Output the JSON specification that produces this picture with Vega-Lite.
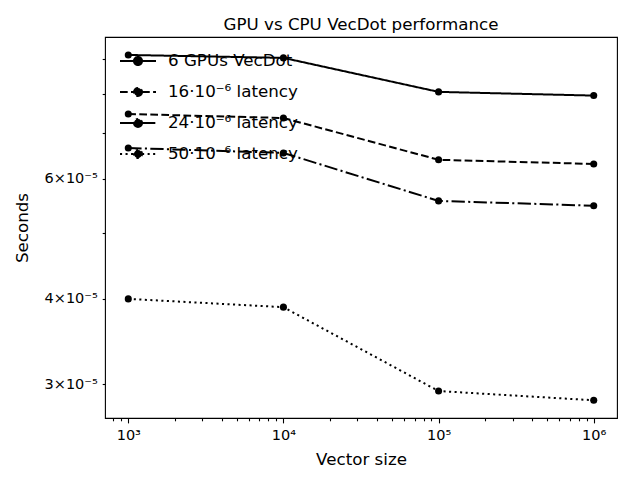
{
  "$schema": "https://vega.github.io/schema/vega-lite/v6.json",
  "width": 512,
  "height": 381,
  "autosize": "none",
  "padding": {"left": 105, "top": 37, "right": 23, "bottom": 62},
  "background": "white",
  "title": {"text": "GPU vs CPU VecDot performance", "fontSize": 16.7, "fontWeight": "normal", "font": "DejaVu Sans", "offset": 3, "color": "black"},
  "data": {
    "values": [
      {"series": "6 GPUs VecDot", "size": 1000, "seconds": 9.12e-5},
      {"series": "6 GPUs VecDot", "size": 10000, "seconds": 9.03e-5},
      {"series": "6 GPUs VecDot", "size": 100000, "seconds": 8.05e-5},
      {"series": "6 GPUs VecDot", "size": 1000000, "seconds": 7.95e-5},
      {"series": "16·10⁻⁶ latency", "size": 1000, "seconds": 7.47e-5},
      {"series": "16·10⁻⁶ latency", "size": 10000, "seconds": 7.37e-5},
      {"series": "16·10⁻⁶ latency", "size": 100000, "seconds": 6.40e-5},
      {"series": "16·10⁻⁶ latency", "size": 1000000, "seconds": 6.31e-5},
      {"series": "24·10⁻⁶ latency", "size": 1000, "seconds": 6.66e-5},
      {"series": "24·10⁻⁶ latency", "size": 10000, "seconds": 6.55e-5},
      {"series": "24·10⁻⁶ latency", "size": 100000, "seconds": 5.57e-5},
      {"series": "24·10⁻⁶ latency", "size": 1000000, "seconds": 5.48e-5},
      {"series": "50·10⁻⁶ latency", "size": 1000, "seconds": 4.00e-5},
      {"series": "50·10⁻⁶ latency", "size": 10000, "seconds": 3.89e-5},
      {"series": "50·10⁻⁶ latency", "size": 100000, "seconds": 2.93e-5},
      {"series": "50·10⁻⁶ latency", "size": 1000000, "seconds": 2.84e-5}
    ]
  },
  "encoding": {
    "x": {
      "field": "size", "type": "quantitative",
      "scale": {"type": "log", "domain": [707.9, 1412537.5], "nice": false},
      "axis": {
        "values": [800, 900, 1000, 2000, 3000, 4000, 5000, 6000, 7000, 8000, 9000, 10000, 20000, 30000, 40000, 50000, 60000, 70000, 80000, 90000, 100000, 200000, 300000, 400000, 500000, 600000, 700000, 800000, 900000, 1000000],
        "labelExpr": "datum.value == 1000 ? '10³' : datum.value == 10000 ? '10⁴' : datum.value == 100000 ? '10⁵' : datum.value == 1000000 ? '10⁶' : ''",
        "tickSize": {"condition": {"test": "datum.value == 1000 || datum.value == 10000 || datum.value == 100000 || datum.value == 1000000", "value": 4.9}, "value": 2.8},
        "labelPadding": 5.5,
        "labelOverlap": false,
        "labelFlush": false,
        "title": "Vector size",
        "titlePadding": 10
      }
    },
    "y": {
      "field": "seconds", "type": "quantitative",
      "scale": {"type": "log", "domain": [2.675e-5, 9.69e-5], "nice": false, "zero": false},
      "axis": {
        "values": [3e-5, 4e-5, 5e-5, 6e-5, 7e-5, 8e-5, 9e-5],
        "labelExpr": "round(datum.value * 1e5) == 3 ? '3×10⁻⁵' : round(datum.value * 1e5) == 4 ? '4×10⁻⁵' : round(datum.value * 1e5) == 6 ? '6×10⁻⁵' : ''",
        "tickSize": 2.8,
        "labelPadding": 4.9,
        "labelOverlap": false,
        "labelFlush": false,
        "title": "Seconds",
        "titlePadding": 13
      }
    }
  },
  "layer": [
    {
      "mark": {"type": "line", "color": "black", "strokeWidth": 2},
      "encoding": {
        "strokeDash": {
          "field": "series", "type": "nominal",
          "scale": {
            "domain": ["6 GPUs VecDot", "16·10⁻⁶ latency", "24·10⁻⁶ latency", "50·10⁻⁶ latency"],
            "range": [[1, 0], [7.7, 3.33], [13.3, 3.33, 2.08, 3.33], [2.08, 3.44]]
          },
          "legend": {
            "orient": "none", "legendX": 17, "legendY": 8, "title": null, "padding": 0,
            "symbolType": "M-1.2,0L1.2,0M0.27,0A0.27,0.27,0,1,1,-0.27,0A0.27,0.27,0,1,1,0.27,0Z",
            "symbolSize": 900, "symbolStrokeWidth": 2, "symbolStrokeColor": "black", "symbolFillColor": "black",
            "labelFont": "DejaVu Sans", "labelFontSize": 16.7, "labelColor": "black", "labelOffset": 14, "rowPadding": 6, "labelLimit": 400
          }
        }
      }
    },
    {
      "mark": {"type": "circle", "color": "black", "size": 50, "opacity": 1},
      "encoding": {"detail": {"field": "series"}}
    }
  ],
  "config": {
    "font": "DejaVu Sans",
    "view": {"stroke": "black", "strokeWidth": 1.1},
    "axis": {
      "grid": false, "domain": false, "tickColor": "black", "tickWidth": 1.1,
      "labelColor": "black", "labelFontSize": 14.5, "labelFont": "DejaVu Sans",
      "titleColor": "black", "titleFontSize": 16.7, "titleFontWeight": "normal", "titleFont": "DejaVu Sans"
    },
    "legend": {"labelFont": "DejaVu Sans"}
  }
}
